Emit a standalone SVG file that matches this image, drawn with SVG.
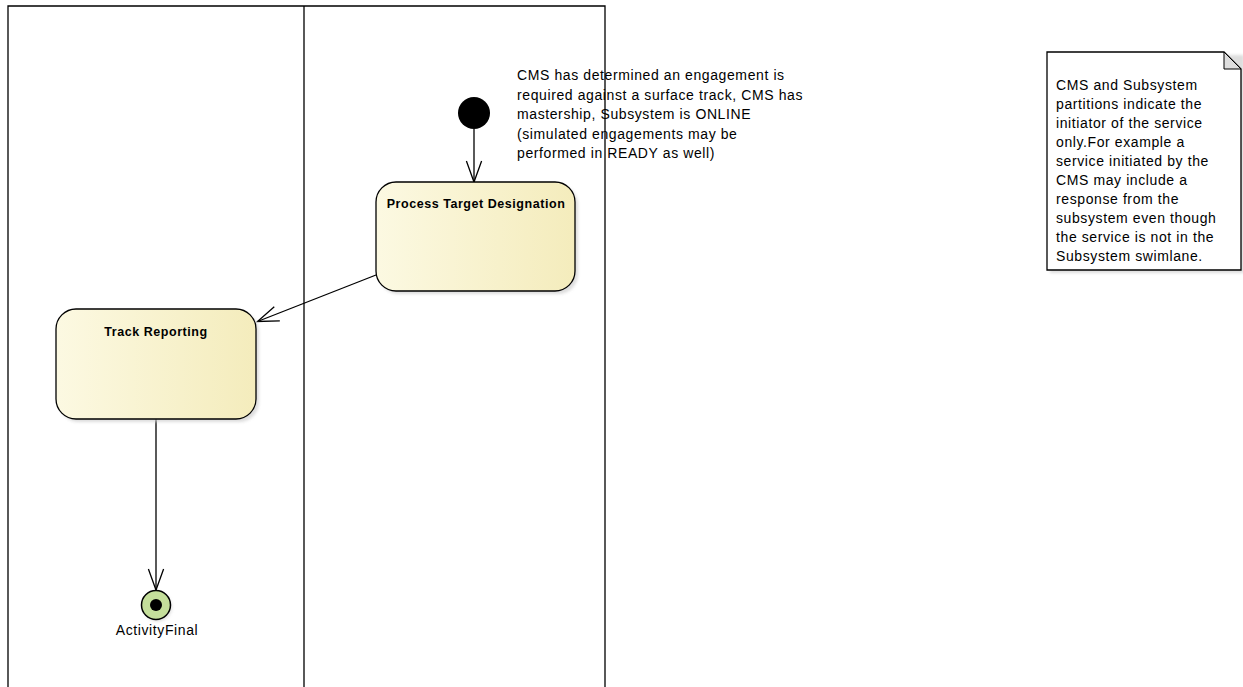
<svg xmlns="http://www.w3.org/2000/svg" width="1243" height="687" viewBox="0 0 1243 687">
<style>
.lane{fill:none;stroke:#000;stroke-width:1.3}
.box{stroke:#000;stroke-width:1.3;fill:url(#yel)}
.shadow{fill:#cfcfcf;opacity:0.7}
.title{font-family:"Liberation Sans",Arial,sans-serif;font-size:12.5px;font-weight:bold;fill:#000;text-anchor:middle;letter-spacing:0.55px}
.txt{font-family:"Liberation Sans",Arial,sans-serif;font-size:14px;fill:#000;letter-spacing:0.6px}
.conn{fill:none;stroke:#000;stroke-width:1.3}
</style>
<defs>
<linearGradient id="yel" x1="0" y1="0" x2="1" y2="0">
<stop offset="0" stop-color="#fcf9e2"/>
<stop offset="1" stop-color="#f4ecbc"/>
</linearGradient>
<filter id="blur" x="-10%" y="-10%" width="130%" height="130%"><feGaussianBlur stdDeviation="1.5"/></filter>
<marker id="open" markerUnits="userSpaceOnUse" markerWidth="30" markerHeight="20" viewBox="-25 -10 30 20" refX="0" refY="0" orient="auto">
<path d="M-21,-7.6 L0,0 L-21,7.6" fill="none" stroke="#000" stroke-width="1.3"/>
</marker>
</defs>

<g id="lanes">
<path class="lane" d="M8,687 V6 H605 V687 M304,6 V687"/>
</g>

<g id="connectors">
<line class="conn" x1="474" y1="129" x2="474" y2="182" marker-end="url(#open)"/>
<line class="conn" x1="376" y1="275" x2="257.5" y2="321.5" marker-end="url(#open)"/>
<line class="conn" x1="156" y1="419" x2="156" y2="590" marker-end="url(#open)"/>
</g>

<g id="initial">
<circle cx="474" cy="113" r="16" fill="#000"/>
</g>

<g id="note-precondition">
<text class="txt" x="517" y="80">CMS has determined an engagement is</text>
<text class="txt" x="517" y="99.5">required against a surface track, CMS has</text>
<text class="txt" x="517" y="119">mastership, Subsystem is ONLINE</text>
<text class="txt" x="517" y="138.5">(simulated engagements may be</text>
<text class="txt" x="517" y="158">performed in READY as well)</text>
</g>

<g id="process-target-designation">
<rect class="shadow" x="379" y="185" width="199" height="109" rx="20" filter="url(#blur)"/>
<rect class="box" x="376" y="182" width="199" height="109" rx="20"/>
<text class="title" x="476" y="207.5">Process Target Designation</text>
</g>

<g id="track-reporting">
<rect class="shadow" x="59" y="312" width="200" height="110" rx="20" filter="url(#blur)"/>
<rect class="box" x="56" y="309" width="200" height="110" rx="20"/>
<text class="title" x="156" y="335.5">Track Reporting</text>
</g>

<g id="activity-final">
<circle cx="157.5" cy="607" r="14.5" fill="#cfcfcf" opacity="0.6" filter="url(#blur)"/>
<circle cx="156" cy="605" r="14.5" fill="#c5df9b" stroke="#000" stroke-width="1.5"/>
<circle cx="156" cy="605" r="6" fill="#000"/>
<text class="txt" x="157" y="635" text-anchor="middle" style="letter-spacing:0.6px">ActivityFinal</text>
</g>

<g id="note">
<rect x="1050" y="55" width="194" height="218" fill="#cfcfcf" opacity="0.7" filter="url(#blur)"/>
<path d="M1047,52 H1224 L1241,69 V270 H1047 Z" fill="#fff" stroke="#000" stroke-width="1.3"/>
<path d="M1224,52 L1241,69 H1224 Z" fill="#dedede" stroke="#000" stroke-width="1"/>
<text class="txt" x="1056" y="90">CMS and Subsystem</text>
<text class="txt" x="1056" y="109">partitions indicate the</text>
<text class="txt" x="1056" y="128">initiator of the service</text>
<text class="txt" x="1056" y="147">only.For example a</text>
<text class="txt" x="1056" y="166">service initiated by the</text>
<text class="txt" x="1056" y="185">CMS may include a</text>
<text class="txt" x="1056" y="204">response from the</text>
<text class="txt" x="1056" y="223">subsystem even though</text>
<text class="txt" x="1056" y="242">the service is not in the</text>
<text class="txt" x="1056" y="261">Subsystem swimlane.</text>
</g>
</svg>
